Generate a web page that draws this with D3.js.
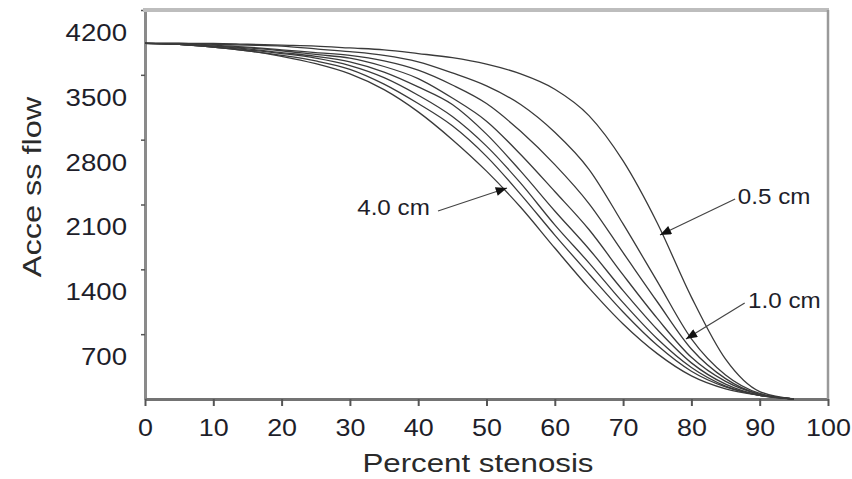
<!DOCTYPE html>
<html>
<head>
<meta charset="utf-8">
<script src="https://cdnjs.cloudflare.com/ajax/libs/d3/7.8.5/d3.min.js"></script>
<style>
    body { margin: 0; background: #fff; }
    svg { display: block; font-family: "Liberation Sans", Arial, Helvetica, sans-serif; }
</style>
</head>
<body>
<svg id="chart" width="852" height="479"></svg>
<script>
// percent stenosis (x) and access flow for each stenosis length
var stenosis = [0, 5, 10, 15, 20, 25, 30, 35, 40, 45, 50, 55, 60, 65, 70, 75, 80, 85, 90, 95];

var flow_05 = [3840, 3840, 3840, 3830, 3820, 3810, 3790, 3770, 3730, 3685, 3615, 3510, 3345, 3060, 2570, 1900, 1100, 430, 80, 0];
var flow_10 = [3840, 3840, 3830, 3820, 3810, 3780, 3750, 3710, 3640, 3520, 3380, 3180, 2880, 2480, 1890, 1270, 650, 260, 60, 0];
var flow_15 = [3840, 3840, 3820, 3800, 3770, 3740, 3710, 3650, 3550, 3390, 3190, 2890, 2530, 2110, 1580, 1050, 540, 220, 50, 0];
var flow_20 = [3840, 3830, 3810, 3790, 3760, 3720, 3680, 3590, 3460, 3250, 3000, 2640, 2240, 1830, 1340, 870, 450, 190, 50, 0];
var flow_25 = [3840, 3830, 3810, 3780, 3740, 3700, 3640, 3530, 3370, 3180, 2860, 2460, 2030, 1620, 1170, 750, 390, 160, 40, 0];
var flow_30 = [3840, 3830, 3800, 3770, 3730, 3680, 3600, 3470, 3280, 3050, 2730, 2330, 1880, 1470, 1040, 650, 340, 140, 40, 0];
var flow_35 = [3840, 3830, 3800, 3760, 3710, 3650, 3560, 3400, 3190, 2950, 2620, 2210, 1770, 1350, 940, 580, 300, 130, 40, 0];
var flow_40 = [3840, 3830, 3800, 3760, 3700, 3620, 3510, 3340, 3100, 2800, 2460, 2070, 1630, 1200, 810, 490, 250, 110, 40, 0];

var x_ticks = [0, 10, 20, 30, 40, 50, 60, 70, 80, 90, 100];
var y_ticks = [700, 1400, 2100, 2800, 3500, 4200];

// callouts: label, text spot, arrow tail, arrow tip (data units)
var note_labels = ["0.5 cm", "1.0 cm", "4.0 cm"];
var note_text = [[86.8, 2105], [88.3, 982], [41.7, 1987]];
var note_tail = [[86.4, 2159], [87.8, 1037], [42.9, 2030]];
var note_tip = [[75.4, 1771], [79.2, 648], [53.0, 2278]];
var note_anchor = ["start", "start", "end"];

var series = [flow_05, flow_10, flow_15, flow_20, flow_25, flow_30, flow_35, flow_40];

var margin = {top: 10, right: 24, bottom: 80, left: 145};
var width = 852 - margin.left - margin.right,
    height = 479 - margin.top - margin.bottom;

var svg = d3.select("#chart");

svg.append("defs").append("marker")
    .attr("id", "arrow")
    .attr("viewBox", "0 0 10 8")
    .attr("refX", 10)
    .attr("refY", 4)
    .attr("markerUnits", "userSpaceOnUse")
    .attr("markerWidth", 12)
    .attr("markerHeight", 9)
    .attr("orient", "auto")
    .append("path")
    .attr("d", "M0,0 L10,4 L0,8 Z")
    .attr("fill", "#111");

var g = svg.append("g")
    .attr("transform", "translate(" + margin.left + "," + margin.top + ")");

var x = d3.scaleLinear().domain([0, 100]).range([0, width]);
var y = d3.scaleLinear().domain([0, 4200]).range([height, 0]);

function stretch_text(sel, factor) {
    sel.each(function () {
        var w = this.getComputedTextLength();
        d3.select(this)
            .attr("textLength", w * factor)
            .attr("lengthAdjust", "spacingAndGlyphs");
    });
}

// axes
var y_axis = g.append("g")
    .call(d3.axisLeft(y).tickValues(y_ticks).tickFormat(d3.format("d"))
        .tickSizeInner(4).tickSizeOuter(0).tickPadding(14));

y_axis.select(".domain").attr("stroke", "#8a8a8a").attr("stroke-width", 3);
y_axis.selectAll(".tick line").attr("stroke", "#555").attr("stroke-width", 1.5);
y_axis.selectAll(".tick text")
    .attr("y", 23)
    .attr("fill", "#1e1e2a")
    .style("font-size", "23px");
stretch_text(y_axis.selectAll(".tick text"), 1.2);

var x_axis = g.append("g")
    .attr("transform", "translate(0," + height + ")")
    .call(d3.axisBottom(x).tickValues(x_ticks).tickFormat(d3.format("d"))
        .tickSizeInner(7).tickSizeOuter(0).tickPadding(13));

x_axis.select(".domain").attr("stroke", "#737373").attr("stroke-width", 3);
x_axis.selectAll(".tick line").attr("stroke", "#555").attr("stroke-width", 2);
x_axis.selectAll(".tick text")
    .attr("fill", "#1e1e2a")
    .style("font-size", "24px");
stretch_text(x_axis.selectAll(".tick text"), 1.12);

// frame top and right
g.append("line")
    .attr("x1", x(0) - 2).attr("x2", x(100) + 1)
    .attr("y1", y(4200)).attr("y2", y(4200))
    .attr("stroke", "#bdbdbd")
    .attr("stroke-width", 4);

g.append("line")
    .attr("x1", x(100)).attr("x2", x(100))
    .attr("y1", y(4200)).attr("y2", y(0))
    .attr("stroke", "#9a9a9a")
    .attr("stroke-width", 2.5);

// curves
var line = d3.line()
    .x(function (d, i) { return x(stenosis[i]); })
    .y(function (d) { return y(d); })
    .curve(d3.curveMonotoneX);

g.selectAll(".flow")
    .data(series)
    .enter().append("path")
    .attr("class", "flow")
    .attr("d", line)
    .attr("fill", "none")
    .attr("stroke", "#3a3a3a")
    .attr("stroke-width", 1.3);

// callouts
note_labels.forEach(function (label, i) {
    g.append("line")
        .attr("x1", x(note_tail[i][0])).attr("y1", y(note_tail[i][1]))
        .attr("x2", x(note_tip[i][0])).attr("y2", y(note_tip[i][1]))
        .attr("stroke", "#444")
        .attr("stroke-width", 1.2)
        .attr("marker-end", "url(#arrow)");

    var t = g.append("text")
        .attr("x", x(note_text[i][0]))
        .attr("y", y(note_text[i][1]))
        .attr("text-anchor", note_anchor[i])
        .attr("fill", "#1e1e2a")
        .style("font-size", "22px")
        .text(label);
    stretch_text(t, 1.1);
});

// axis titles
var x_title = svg.append("text")
    .attr("x", 478)
    .attr("y", 472)
    .attr("text-anchor", "middle")
    .attr("fill", "#2a2a2a")
    .style("font-size", "25px")
    .text("Percent stenosis");
stretch_text(x_title, 1.25);

var y_title = svg.append("text")
    .attr("transform", "translate(41,187) rotate(-90)")
    .attr("text-anchor", "middle")
    .attr("fill", "#2a2a2a")
    .style("font-size", "25px")
    .text("Acce ss flow");
stretch_text(y_title, 1.3);
</script>
</body>
</html>
